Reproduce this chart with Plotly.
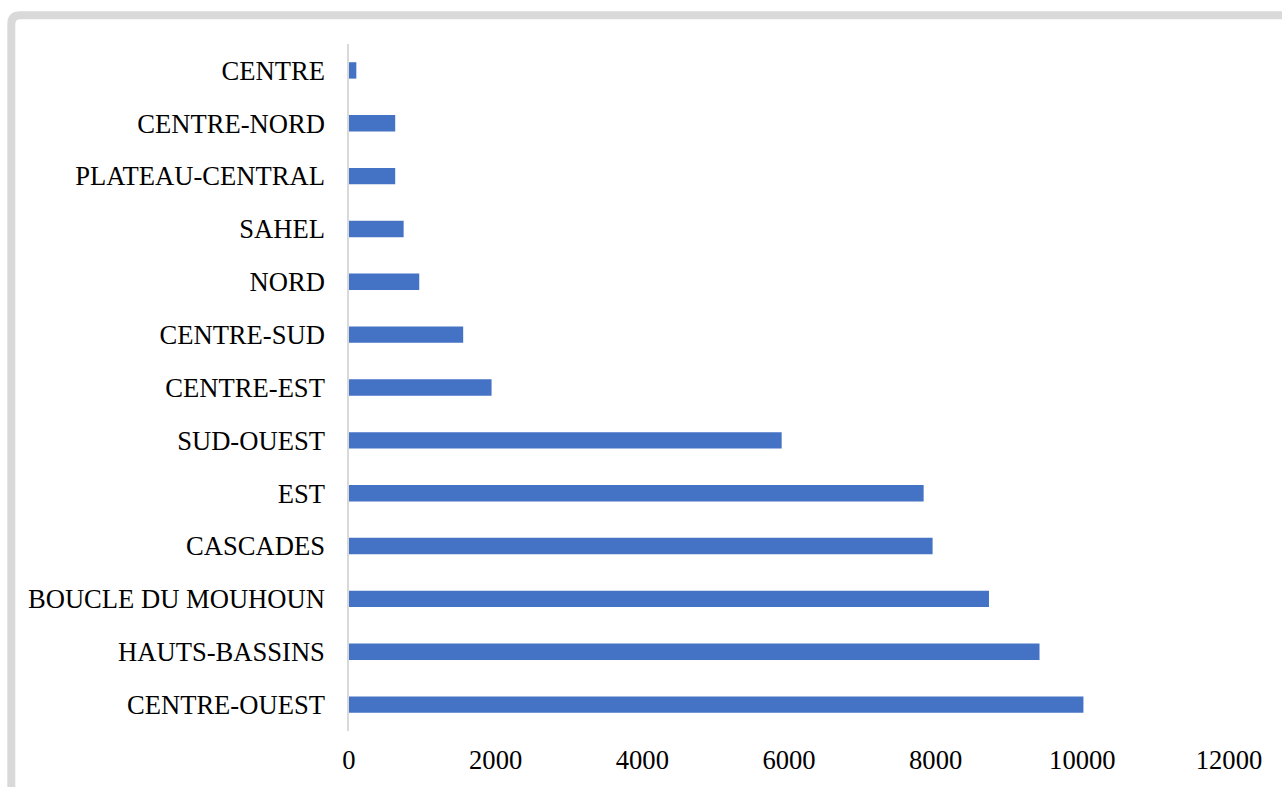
import plotly.graph_objects as go

# Regions, listed top to bottom as displayed
regions = [
    "CENTRE", "CENTRE-NORD", "PLATEAU-CENTRAL", "SAHEL", "NORD",
    "CENTRE-SUD", "CENTRE-EST", "SUD-OUEST", "EST", "CASCADES",
    "BOUCLE DU MOUHOUN", "HAUTS-BASSINS", "CENTRE-OUEST",
]
values = [100, 630, 630, 745, 958, 1557, 1944, 5900, 7836, 7958, 8727, 9416, 10015]
x_ticks = [0, 2000, 4000, 6000, 8000, 10000, 12000]

W, H = 1282, 787
ML, MR, MT, MB = 349, 53, 44, 56
PW, PH = W - ML - MR, H - MT - MB
FONT_SIZE = 26.6

fig = go.Figure(
    go.Bar(
        x=values,
        y=regions,
        orientation="h",
        marker=dict(color="#4472C4", line=dict(width=0)),
        hoverinfo="x+y",
    )
)


def px(x):
    return (x - ML) / PW


def py(y):
    return (H - MB - y) / PH


# Outer frame with a rounded top-left corner
x0, y0, x1, y1, r = 11.3, 15.2, 1300, 810, 9
frame = (
    f"M {px(x0)},{py(y1)} L {px(x0)},{py(y0 + r)} "
    f"Q {px(x0)},{py(y0)} {px(x0 + r)},{py(y0)} "
    f"L {px(x1)},{py(y0)}"
)

fig.update_layout(
    width=W,
    height=H,
    margin=dict(l=ML, r=MR, t=MT, b=MB, autoexpand=False),
    paper_bgcolor="white",
    plot_bgcolor="white",
    bargap=0.69,
    showlegend=False,
    font=dict(family="Liberation Serif, Times New Roman, serif", size=FONT_SIZE, color="#000000"),
    xaxis=dict(
        range=[0, 12000],
        tickvals=x_ticks,
        ticktext=[str(v) for v in x_ticks],
        showgrid=False,
        zeroline=False,
        showline=False,
        ticks="",
        ticklabelstandoff=10,
        tickfont=dict(size=FONT_SIZE),
        automargin=False,
    ),
    yaxis=dict(
        categoryorder="array",
        categoryarray=regions[::-1],
        autorange=False,
        range=[-0.5, len(regions) - 0.5],
        showgrid=False,
        zeroline=False,
        showline=True,
        linecolor="#D9D9D9",
        linewidth=1.5,
        ticks="",
        ticklabelstandoff=17,
        tickfont=dict(size=FONT_SIZE),
        automargin=False,
    ),
    shapes=[
        dict(
            type="path",
            path=frame,
            xref="paper",
            yref="paper",
            line=dict(color="#D9D9D9", width=8),
            layer="above",
        )
    ],
)

fig.write_html("out.html")
